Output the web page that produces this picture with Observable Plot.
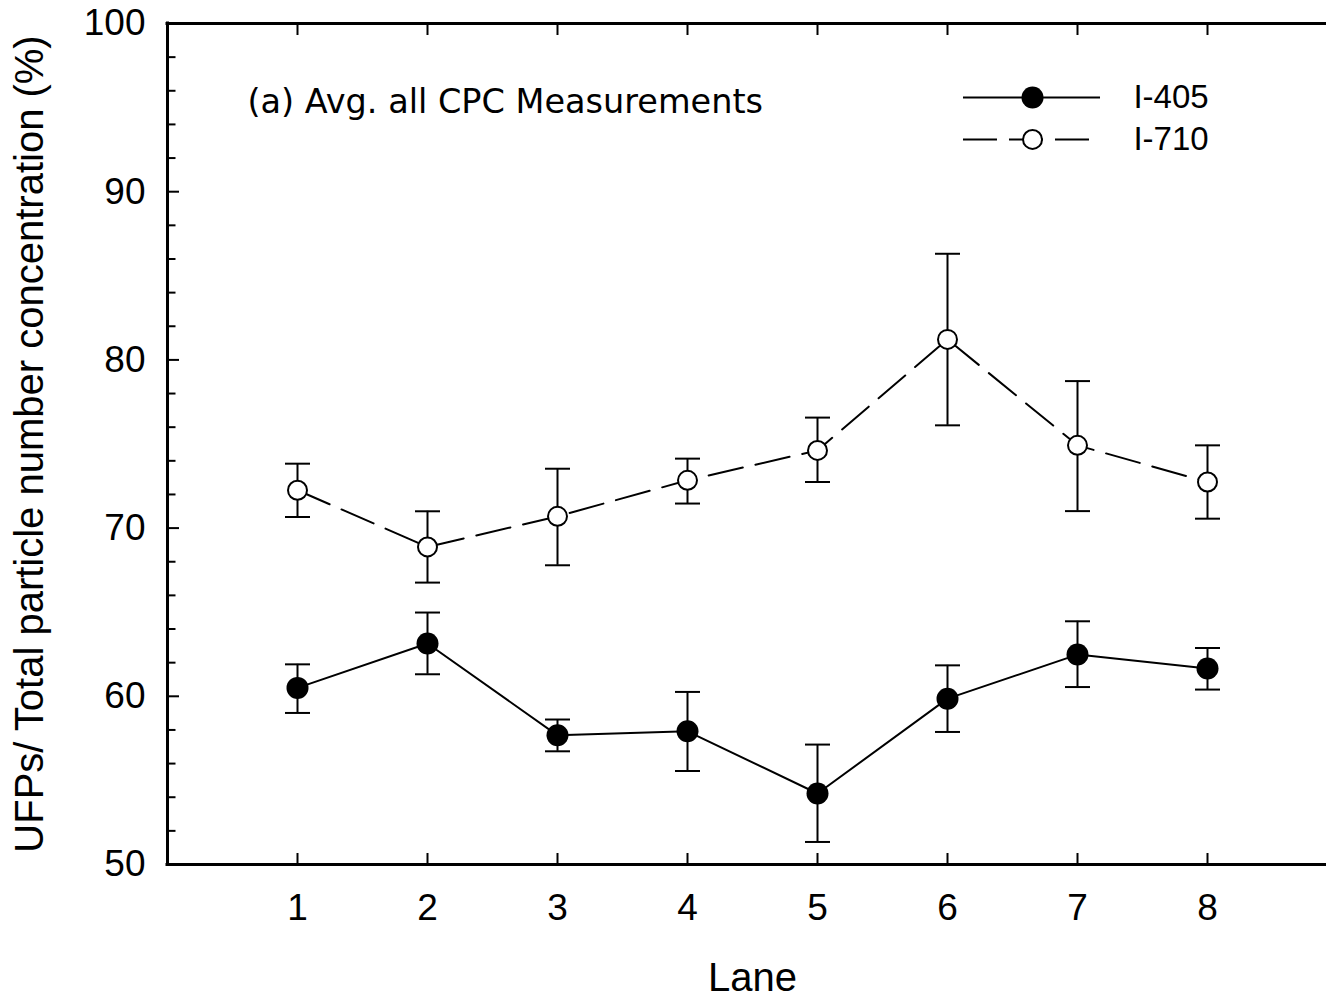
<!DOCTYPE html>
<html><head><meta charset="utf-8">
<script src="https://cdn.jsdelivr.net/npm/d3@7"></script>
<script src="https://cdn.jsdelivr.net/npm/@observablehq/plot@0.6"></script>
<style>
html,body{margin:0;padding:0;background:#fff;overflow:hidden;}
#chart svg{overflow:hidden;display:block;}
</style></head><body><div id="chart"></div>
<script>
// ---- data ----
const lanes = [1, 2, 3, 4, 5, 6, 7, 8];
const i405Mean  = [60.50, 63.14, 57.68, 57.92, 54.22, 59.86, 62.48, 61.65];
const i405Upper = [61.90, 64.98, 58.62, 60.26, 57.13, 61.84, 64.46, 62.87];
const i405Lower = [59.01, 61.31, 56.73, 55.56, 51.34, 57.88, 60.55, 60.40];
const i710Mean  = [72.25, 68.88, 70.70, 72.84, 74.62, 81.22, 74.92, 72.74];
const i710Upper = [73.83, 71.00, 73.53, 74.13, 76.57, 86.31, 78.74, 74.92];
const i710Lower = [70.66, 66.76, 67.79, 71.46, 72.74, 76.11, 71.01, 70.56];
const seriesNames = ["I-405", "I-710"];
const yMajorTicks = [50, 60, 70, 80, 90, 100];
const yMinorTicks = [52, 54, 56, 58, 62, 64, 66, 68, 72, 74, 76, 78, 82, 84, 86, 88, 92, 94, 96, 98];
const xTicks = [1, 2, 3, 4, 5, 6, 7, 8];
const titleText = "(a) Avg. all CPC Measurements";
const xLabel = "Lane";
const yLabel = "UFPs/ Total particle number concentration (%)";

// ---- build table ----
const rows405 = lanes.map((lane, i) => ({lane, series: seriesNames[0], mean: i405Mean[i], lo: i405Lower[i], hi: i405Upper[i]}));
const rows710 = lanes.map((lane, i) => ({lane, series: seriesNames[1], mean: i710Mean[i], lo: i710Lower[i], hi: i710Upper[i]}));
const allRows = rows405.concat(rows710);

// legend layout (in data units)
const legendLayout = {x1: 6.123, x2: 7.177, dashX2: 7.12, markerX: 6.654, textX: 7.43, rowY: [95.6, 93.11]};
const legendData = seriesNames.map((name, i) => ({name, y: legendLayout.rowY[i]}));

const capSymbol = {draw(ctx, size) { const h = Math.sqrt(size / Math.PI); ctx.moveTo(-h, 0); ctx.lineTo(h, 0); }};
const blank = () => "";

const chart = Plot.plot({
  width: 1326, height: 999,
  marginLeft: 167, marginRight: -11, marginTop: 23, marginBottom: 135,
  x: {domain: [0, 9]},
  y: {domain: [50, 100]},
  style: {fontFamily: "'Liberation Sans', Arial, sans-serif", fontSize: "37px", color: "black", background: "white"},
  marks: [
    // axes
    Plot.axisY({ticks: yMinorTicks, tickSize: -8.5, strokeWidth: 2, tickFormat: blank, label: null}),
    Plot.axisY({ticks: yMajorTicks, tickSize: -12, tickPadding: 34, strokeWidth: 2, label: null}),
    Plot.axisY({anchor: "right", ticks: yMajorTicks, tickSize: -12, strokeWidth: 2, tickFormat: blank, label: null}),
    Plot.axisX({anchor: "top", ticks: xTicks, tickSize: -11, strokeWidth: 2, tickFormat: blank, label: null}),
    Plot.axisX({anchor: "bottom", ticks: xTicks, tickSize: -11, tickPadding: 40, strokeWidth: 2, label: null}),
    // axis titles
    Plot.text([yLabel], {text: d => d, frameAnchor: "left", rotate: -90, dx: -137, lineAnchor: "middle", textAnchor: "middle", fontSize: 40}),
    Plot.text([xLabel], {text: d => d, frameAnchor: "bottom", dy: 114, lineAnchor: "middle", textAnchor: "middle", fontSize: 40}),
    // frame lines (right edge lies beyond the picture)
    Plot.ruleX([0], {stroke: "black", strokeWidth: 3, strokeLinecap: "square"}),
    Plot.ruleY([50, 100], {stroke: "black", strokeWidth: 3, strokeLinecap: "square"}),
    // series lines
    Plot.line(rows405, {x: "lane", y: "mean", stroke: "black", strokeWidth: 2}),
    Plot.line(rows710, {x: "lane", y: "mean", stroke: "black", strokeWidth: 2, strokeDasharray: "35,13"}),
    // error bars
    Plot.ruleX(allRows, {x: "lane", y1: "lo", y2: "hi", stroke: "black", strokeWidth: 2}),
    Plot.dot(allRows, {x: "lane", y: "lo", symbol: capSymbol, r: 12.5, fill: "none", stroke: "black", strokeWidth: 2}),
    Plot.dot(allRows, {x: "lane", y: "hi", symbol: capSymbol, r: 12.5, fill: "none", stroke: "black", strokeWidth: 2}),
    // markers
    Plot.dot(rows405, {x: "lane", y: "mean", r: 11, fill: "black", stroke: "none"}),
    Plot.dot(rows710, {x: "lane", y: "mean", r: 9.5, fill: "white", stroke: "black", strokeWidth: 2}),
    // title
    Plot.text([titleText], {text: d => d, frameAnchor: "top-left", dx: 80, dy: 79, lineAnchor: "middle", textAnchor: "start", fontSize: 33.5, fontFamily: "'DejaVu Sans', Tahoma, sans-serif"}),
    // legend
    Plot.ruleY([legendData[0]], {y: "y", x1: () => legendLayout.x1, x2: () => legendLayout.x2, stroke: "black", strokeWidth: 2}),
    Plot.ruleY([legendData[1]], {y: "y", x1: () => legendLayout.x1, x2: () => legendLayout.dashX2, stroke: "black", strokeWidth: 2, strokeDasharray: "34,12"}),
    Plot.dot([legendData[0]], {x: () => legendLayout.markerX, y: "y", r: 11, fill: "black", stroke: "none"}),
    Plot.dot([legendData[1]], {x: () => legendLayout.markerX, y: "y", r: 9.5, fill: "white", stroke: "black", strokeWidth: 2}),
    Plot.text(legendData, {x: () => legendLayout.textX, y: "y", text: "name", textAnchor: "start", lineAnchor: "middle", fontSize: 33})
  ]
});
document.getElementById("chart").appendChild(chart);
</script>
</body></html>
